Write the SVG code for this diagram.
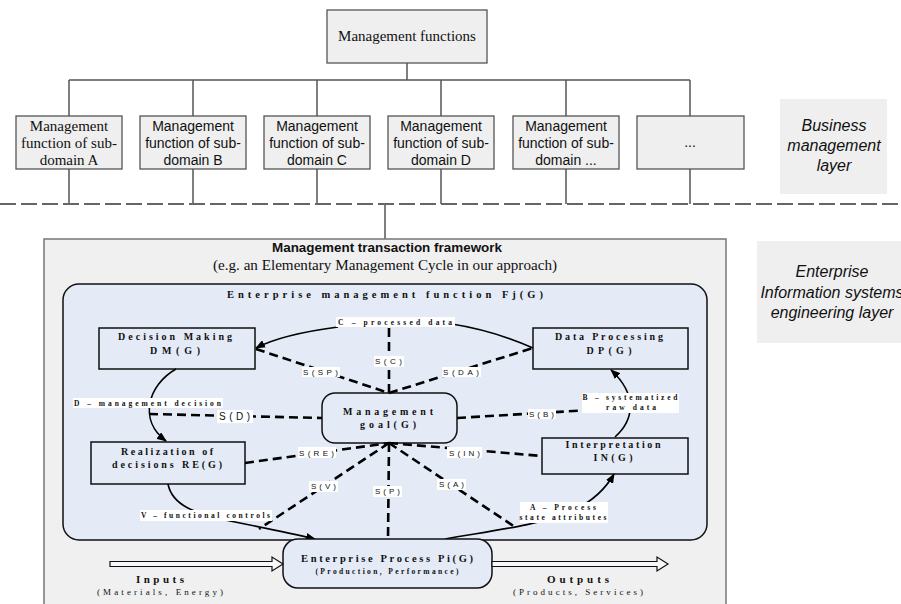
<svg xmlns="http://www.w3.org/2000/svg" width="901" height="604" viewBox="0 0 901 604">
<defs>
<marker id="ah" markerWidth="10" markerHeight="8" refX="9" refY="4" orient="auto" markerUnits="userSpaceOnUse">
<path d="M0,0 L10,4 L0,8 Z" fill="#000"/>
</marker>
<style>
.box{fill:#efefef;stroke:#555;stroke-width:1.3}
.tree{fill:none;stroke:#555;stroke-width:1.5}
.layer{fill:#efefef}
.serif{font-family:"Liberation Serif",serif;font-size:15px;fill:#111}
.serif9{font-family:"Liberation Serif",serif;font-size:9px;fill:#111}
.sans{font-family:"Liberation Sans",Arial,sans-serif;font-size:14px;fill:#111}
.it{font-family:"Liberation Sans",Arial,sans-serif;font-style:italic;font-size:16px;fill:#111}
.node{fill:#e4ebf6;stroke:#111;stroke-width:1.5}
.bl{font-family:"Liberation Serif",serif;font-weight:bold;fill:#111}
.dash{fill:none;stroke:#000;stroke-width:2.6;stroke-dasharray:9 5}
.flow{fill:none;stroke:#000;stroke-width:1.6}
.lbg{fill:#fff}
.sl{font-family:"Liberation Sans",Arial,sans-serif;font-size:8px;fill:#111}
</style>
</defs>
<rect width="901" height="604" fill="#fff"/>

<g id="business-layer">
<rect class="layer" x="780" y="99" width="107" height="95"/>
<text class="it" text-anchor="middle" x="834" y="131">Business</text>
<text class="it" text-anchor="middle" x="834" y="151">management</text>
<text class="it" text-anchor="middle" x="834" y="171">layer</text>
</g>
<g id="eis-layer">
<rect class="layer" x="757" y="241" width="150" height="102"/>
<text class="it" text-anchor="middle" x="832" y="277">Enterprise</text>
<text class="it" text-anchor="middle" x="832" y="298">Information systems</text>
<text class="it" text-anchor="middle" x="832" y="318">engineering layer</text>
</g>

<g id="tree-connectors">
<path class="tree" d="M407,63 V80 M69,80 H690 M69,80 V116 M193,80 V116 M317,80 V116 M441,80 V116 M566,80 V116 M690,80 V116"/>
<path class="tree" d="M69,169 V204 M193,169 V204 M317,169 V204 M441,169 V204 M566,169 V204 M690,169 V204 M385,204 V239"/>
<line x1="0" y1="204" x2="901" y2="204" stroke="#666" stroke-width="2" stroke-dasharray="16 5"/>
</g>

<g id="mgmt-functions">
<rect class="box" x="327" y="10" width="160" height="53"/>
<text class="serif" text-anchor="middle" x="407" y="41">Management functions</text>
</g>
<g id="sub-a">
<rect class="box" x="16" y="116" width="106" height="53"/>
<text class="serif" text-anchor="middle" x="69" y="131">Management</text>
<text class="serif" text-anchor="middle" x="69" y="148">function of sub-</text>
<text class="serif" text-anchor="middle" x="69" y="165">domain A</text>
</g>
<g id="sub-b">
<rect class="box" x="140" y="116" width="106" height="53"/>
<text class="sans" text-anchor="middle" x="193" y="131">Management</text>
<text class="sans" text-anchor="middle" x="193" y="148">function of sub-</text>
<text class="sans" text-anchor="middle" x="193" y="165">domain B</text>
</g>
<g id="sub-c">
<rect class="box" x="264" y="116" width="106" height="53"/>
<text class="sans" text-anchor="middle" x="317" y="131">Management</text>
<text class="sans" text-anchor="middle" x="317" y="148">function of sub-</text>
<text class="sans" text-anchor="middle" x="317" y="165">domain C</text>
</g>
<g id="sub-d">
<rect class="box" x="388" y="116" width="106" height="53"/>
<text class="sans" text-anchor="middle" x="441" y="131">Management</text>
<text class="sans" text-anchor="middle" x="441" y="148">function of sub-</text>
<text class="sans" text-anchor="middle" x="441" y="165">domain D</text>
</g>
<g id="sub-etc">
<rect class="box" x="513" y="116" width="106" height="53"/>
<text class="sans" text-anchor="middle" x="566" y="131">Management</text>
<text class="sans" text-anchor="middle" x="566" y="148">function of sub-</text>
<text class="sans" text-anchor="middle" x="566" y="165">domain ...</text>
</g>
<g id="sub-more">
<rect class="box" x="637" y="116" width="107" height="53"/>
<text class="sans" text-anchor="middle" x="690" y="147">...</text>
</g>

<g id="framework">
<rect x="44" y="239" width="682" height="380" fill="#f0f0f0" stroke="#777" stroke-width="1.5"/>
<text x="387" y="252" text-anchor="middle" font-family="Liberation Sans, Arial, sans-serif" font-weight="bold" font-size="13" fill="#111" textLength="230" lengthAdjust="spacingAndGlyphs">Management transaction framework</text>
<text class="serif" x="385" y="270" text-anchor="middle" textLength="344" lengthAdjust="spacingAndGlyphs">(e.g. an Elementary Management Cycle in our approach)</text>
</g>

<g id="emf">
<rect class="node" x="63" y="284" width="644" height="256" rx="16"/>
<text class="bl" x="385" y="298" text-anchor="middle" font-size="10.5" textLength="316" lengthAdjust="spacing">Enterprise management function  Fj(G)</text>
</g>

<g id="decision-making">
<rect class="node" x="99" y="328" width="156" height="41"/>
<text class="bl" x="175" y="340" text-anchor="middle" font-size="10" textLength="114" lengthAdjust="spacing">Decision Making</text>
<text class="bl" x="175" y="354" text-anchor="middle" font-size="10" textLength="50" lengthAdjust="spacing">DM(G)</text>
</g>
<g id="data-processing">
<rect class="node" x="533" y="328" width="155" height="41"/>
<text class="bl" x="609" y="340" text-anchor="middle" font-size="10" textLength="108" lengthAdjust="spacing">Data Processing</text>
<text class="bl" x="609" y="354" text-anchor="middle" font-size="10" textLength="45" lengthAdjust="spacing">DP(G)</text>
</g>
<g id="management-goal">
<rect class="node" x="322" y="393" width="135" height="50" rx="13"/>
<text class="bl" x="388" y="415" text-anchor="middle" font-size="10" textLength="90" lengthAdjust="spacing">Management</text>
<text class="bl" x="388" y="428" text-anchor="middle" font-size="10" textLength="56" lengthAdjust="spacing">goal(G)</text>
</g>
<g id="realization">
<rect class="node" x="91" y="442" width="154" height="42"/>
<text class="bl" x="167" y="455" text-anchor="middle" font-size="10" textLength="92" lengthAdjust="spacing">Realization of</text>
<text class="bl" x="167" y="468" text-anchor="middle" font-size="10" textLength="110" lengthAdjust="spacing">decisions RE(G)</text>
</g>
<g id="interpretation">
<rect class="node" x="542" y="438" width="146" height="36"/>
<text class="bl" x="613" y="448" text-anchor="middle" font-size="10" textLength="95" lengthAdjust="spacing">Interpretation</text>
<text class="bl" x="613" y="461" text-anchor="middle" font-size="10" textLength="39" lengthAdjust="spacing">IN(G)</text>
</g>

<g id="connectors">
<path class="flow" d="M338,327 C300,332 275,338 256,348" marker-end="url(#ah)"/>
<path class="flow" d="M452,324 C490,330 515,340 533,348"/>
<path class="flow" d="M176,369 C148,385 138,420 166,441" marker-end="url(#ah)"/>
<path class="flow" d="M168,484 C172,505 195,514 230,521 C260,527 290,533 315,539" marker-end="url(#ah)"/>
<path class="flow" d="M445,539 C490,531 540,525 570,512 C590,503 605,490 614,474" marker-end="url(#ah)"/>
<path class="flow" d="M615,437 C634,420 638,395 611,370" marker-end="url(#ah)"/>

<path class="dash" d="M389,328 V393"/>
<path class="dash" d="M256,349 L389,393"/>
<path class="dash" d="M389,393 L533,348"/>
<path class="dash" d="M149,414 L322,418"/>
<path class="dash" d="M457,418 L624,408"/>
<path class="dash" d="M245,463 L389,443"/>
<path class="dash" d="M389,443 L542,456"/>
<path class="dash" d="M389,443 L259,529"/>
<path class="dash" d="M389,443 L388,539"/>
<path class="dash" d="M389,443 L515,527"/>

<rect class="lbg" x="336" y="317" width="119" height="10"/>
<text class="bl" x="338" y="325" font-size="7.5" textLength="114" lengthAdjust="spacing">C –  processed data</text>
<rect class="lbg" x="73" y="398" width="150" height="10"/>
<text class="bl" x="74" y="406" font-size="7.5" textLength="147" lengthAdjust="spacing">D – management decision</text>
<rect class="lbg" x="140" y="510" width="132" height="11"/>
<text class="bl" x="141" y="518" font-size="7.5" textLength="129" lengthAdjust="spacing">V – functional controls</text>
<rect class="lbg" x="520" y="502" width="88" height="21"/>
<text class="bl" x="563" y="510" text-anchor="middle" font-size="7.5" textLength="66" lengthAdjust="spacing">A – Process</text>
<text class="bl" x="563" y="520" text-anchor="middle" font-size="7.5" textLength="87" lengthAdjust="spacing">state attributes</text>
<rect class="lbg" x="582" y="393" width="97" height="20"/>
<text class="bl" x="630" y="400" text-anchor="middle" font-size="7.5" textLength="95" lengthAdjust="spacing">B – systematized</text>
<text class="bl" x="631" y="410" text-anchor="middle" font-size="7.5" textLength="50" lengthAdjust="spacing">raw data</text>

<rect class="lbg" x="374" y="356" width="30" height="11"/>
<text class="sl" x="375" y="364" textLength="27" lengthAdjust="spacing">S(C)</text>
<rect class="lbg" x="302" y="367" width="38" height="10"/>
<text class="sl" x="303" y="375" textLength="35" lengthAdjust="spacing">S(SP)</text>
<rect class="lbg" x="442" y="367" width="39" height="10"/>
<text class="sl" x="443" y="375" textLength="36" lengthAdjust="spacing">S(DA)</text>
<rect class="lbg" x="217" y="410" width="36" height="13"/>
<text class="sl" x="219" y="420" style="font-size:10px" textLength="31" lengthAdjust="spacing">S(D)</text>
<rect class="lbg" x="528" y="409" width="28" height="10"/>
<text class="sl" x="529" y="417" textLength="25" lengthAdjust="spacing">S(B)</text>
<rect class="lbg" x="298" y="447" width="38" height="11"/>
<text class="sl" x="299" y="456" textLength="35" lengthAdjust="spacing">S(RE)</text>
<rect class="lbg" x="447" y="447" width="35" height="11"/>
<text class="sl" x="449" y="456" textLength="31" lengthAdjust="spacing">S(IN)</text>
<rect class="lbg" x="309" y="481" width="29" height="11"/>
<text class="sl" x="311" y="489" textLength="25" lengthAdjust="spacing">S(V)</text>
<rect class="lbg" x="373" y="486" width="29" height="11"/>
<text class="sl" x="375" y="494" textLength="25" lengthAdjust="spacing">S(P)</text>
<rect class="lbg" x="437" y="479" width="29" height="11"/>
<text class="sl" x="439" y="487" textLength="25" lengthAdjust="spacing">S(A)</text>
</g>

<g id="enterprise-process">
<rect class="node" x="283" y="539" width="209" height="49" rx="15"/>
<text class="bl" x="387" y="562" text-anchor="middle" font-size="10.5" textLength="172" lengthAdjust="spacing">Enterprise Process Pi(G)</text>
<text class="bl" x="387" y="574" text-anchor="middle" font-size="7.5" textLength="143" lengthAdjust="spacing">(Production, Performance)</text>
</g>

<g id="inputs">
<path d="M110,561.5 H272 V557 L283,564 L272,571 V566.5 H110 Z" fill="#f6f8fc" stroke="#111" stroke-width="1.2"/>
<text class="bl" x="160" y="583" text-anchor="middle" font-size="11" textLength="48" lengthAdjust="spacing">Inputs</text>
<text class="serif9" x="160" y="595" text-anchor="middle" textLength="126" lengthAdjust="spacing">(Materials, Energy)</text>
</g>
<g id="outputs">
<path d="M492,561.5 H657 V557 L668,564 L657,571 V566.5 H492 Z" fill="#f6f8fc" stroke="#111" stroke-width="1.2"/>
<text class="bl" x="578" y="583" text-anchor="middle" font-size="11" textLength="62" lengthAdjust="spacing">Outputs</text>
<text class="serif9" x="578" y="595" text-anchor="middle" textLength="130" lengthAdjust="spacing">(Products, Services)</text>
</g>
</svg>
